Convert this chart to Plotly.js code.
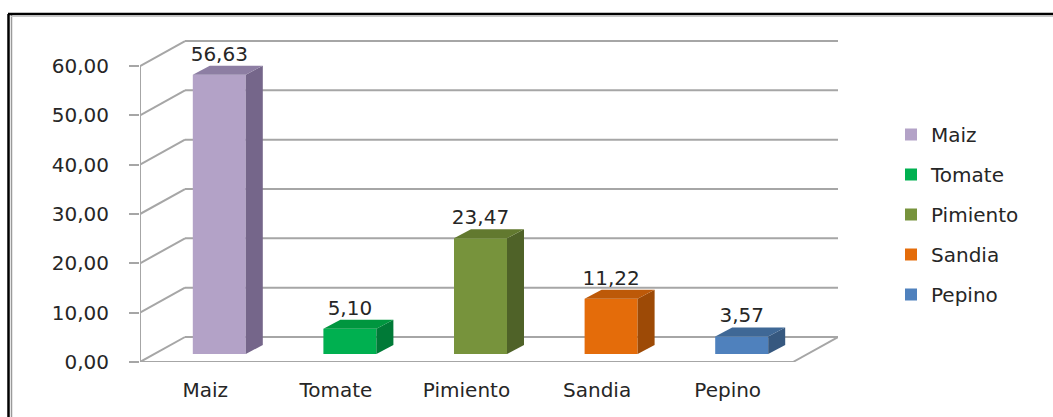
<!DOCTYPE html>
<html>
<head>
<meta charset="utf-8">
<script src="https://cdn.plot.ly/plotly-3.0.1.min.js"></script>
<style>html,body{margin:0;padding:0;background:#fff;}#chart{width:1053px;height:417px;}</style>
</head>
<body>
<div id="chart"></div>
<script>
// ---- data ----
const categories = ['Maiz', 'Tomate', 'Pimiento', 'Sandia', 'Pepino'];
const values = [56.63, 5.10, 23.47, 11.22, 3.57];
const frontColors = ['#b3a2c7', '#00b050', '#77933c', '#e46c0a', '#4f81bd'];
const sideColors  = ['#75668a', '#007a37', '#4f6228', '#9d4a06', '#36587f'];
const topColors   = ['#8d7ea3', '#00963f', '#62792f', '#bd5908', '#3f6896'];
const yTicks = [0, 10, 20, 30, 40, 50, 60];

// ---- pseudo-3D geometry (in axis units) ----
const PX_X = 130.6, PX_Y = 4.933;
const xMin = -0.5, xMaxFront = categories.length - 0.5;
const wallDX = 45 / PX_X, wallDY = 25 / PX_Y;
const barDX = 14 / PX_X, barDY = 8 / PX_Y;
const barW = 53 / PX_X;
const sideDX = 17 / PX_X, sideDY = 9 / PX_Y;
const yTop = 322 / PX_Y;
const grid = '#a6a6a6';

const traces = [];
const fontFam = 'DejaVu Sans, Verdana, sans-serif';
const fs = 20;

categories.forEach((c, i) => {
  traces.push({
    type: 'bar', name: c, x: [i + barDX], y: [values[i]], base: [barDY], width: [barW],
    marker: {color: frontColors[i], line: {width: 0}}, legendgroup: c, hoverinfo: 'skip'
  });
});
categories.forEach((c, i) => {
  const v = values[i];
  const xl = i + barDX - barW / 2, xr = i + barDX + barW / 2;
  const b = barDY, t = barDY + v;
  traces.push({
    type: 'scatter', mode: 'lines', fill: 'toself', fillcolor: sideColors[i],
    x: [xr, xr + sideDX, xr + sideDX, xr, xr], y: [b, b + sideDY, t + sideDY, t, b],
    line: {width: 0, color: sideColors[i]}, showlegend: false, hoverinfo: 'skip'
  });
  traces.push({
    type: 'scatter', mode: 'lines', fill: 'toself', fillcolor: topColors[i],
    x: [xl, xr, xr + sideDX, xl + sideDX, xl], y: [t, t, t + sideDY, t + sideDY, t],
    line: {width: 0, color: topColors[i]}, showlegend: false, hoverinfo: 'skip'
  });
});
traces.push({
  type: 'scatter', mode: 'text', x: categories.map((c, i) => i + barDX),
  y: values.map(v => v + barDY + sideDY), customdata: values,
  texttemplate: '%{customdata:.2f}', textposition: 'top center',
  textfont: {family: fontFam, size: fs, color: '#262626'}, showlegend: false, hoverinfo: 'skip'
});

// ---- walls / floor as shapes beneath the bars ----
const shapes = [];
const ln = (x0, y0, x1, y1) => ({type: 'line', xref: 'x', yref: 'y', x0, y0, x1, y1, layer: 'below', line: {color: grid, width: 2}});
yTicks.forEach(t => {
  shapes.push(ln(xMin + wallDX, t + wallDY, xMaxFront + wallDX, t + wallDY));
  shapes.push(ln(xMin, t, xMin + wallDX, t + wallDY));
});
shapes.push(ln(xMin, 0, xMaxFront, 0));
shapes.push(ln(xMaxFront, 0, xMaxFront + wallDX, wallDY));
shapes.push(ln(xMin, 0, xMin, yTicks[yTicks.length - 1]));
// outer frame
const px = p => (p - 140) / 698, py = p => (362 - p) / 322;
shapes.push({type: 'line', xref: 'paper', yref: 'paper', x0: px(8.5), x1: px(8.5), y0: py(14), y1: py(420), line: {color: '#000', width: 2.5}});
shapes.push({type: 'line', xref: 'paper', yref: 'paper', x0: px(11.5), x1: px(11.5), y0: py(15), y1: py(420), line: {color: '#9a9a9a', width: 1.5}});
shapes.push({type: 'line', xref: 'paper', yref: 'paper', x0: px(8), x1: px(1060), y0: py(14), y1: py(14), line: {color: '#000', width: 2.5}});
shapes.push({type: 'line', xref: 'paper', yref: 'paper', x0: px(11), x1: px(1060), y0: py(16.5), y1: py(16.5), line: {color: '#c8c8c8', width: 1}});

const layout = {
  width: 1053, height: 417,
  margin: {l: 140, r: 215, t: 40, b: 55},
  paper_bgcolor: '#fff', plot_bgcolor: 'rgba(0,0,0,0)',
  separators: ',.',
  barmode: 'overlay',
  showlegend: true,
  legend: {x: px(891), xanchor: 'left', y: py(115), yanchor: 'top', traceorder: 'grouped', tracegroupgap: 11,
           font: {family: fontFam, size: fs, color: '#262626'}, bgcolor: 'rgba(0,0,0,0)'},
  xaxis: {range: [xMin, xMaxFront + wallDX], tickvals: categories.map((c, i) => i), ticktext: categories,
          showgrid: false, zeroline: false, showline: false, ticks: '', ticklabelstandoff: 14,
          tickfont: {family: fontFam, size: fs, color: '#262626'}, fixedrange: true, automargin: false},
  yaxis: {range: [0, yTop], tickvals: yTicks, tickformat: '.2f', showgrid: false, zeroline: false, showline: false,
          ticks: 'outside', ticklen: 10, tickwidth: 2, tickcolor: grid, ticklabelstandoff: 16,
          tickfont: {family: fontFam, size: fs, color: '#262626'}, fixedrange: true, automargin: false},
  shapes: shapes
};
Plotly.newPlot('chart', traces, layout, {displayModeBar: false, staticPlot: true});
</script>
</body>
</html>
